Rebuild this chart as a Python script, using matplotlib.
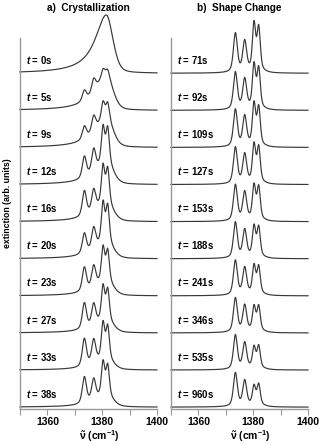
import numpy as np
import matplotlib
matplotlib.use('Agg')
import matplotlib.pyplot as plt
from matplotlib.ticker import FixedLocator

plt.rcParams['font.family'] = ['Liberation Sans', 'DejaVu Sans']
plt.rcParams['font.weight'] = 'bold'
plt.rcParams['mathtext.fontset'] = 'custom'
plt.rcParams['mathtext.rm'] = 'Liberation Sans:bold'
plt.rcParams['mathtext.it'] = 'Liberation Sans:italic:bold'
plt.rcParams['mathtext.bf'] = 'Liberation Sans:bold'

# band positions (cm-1) of the crystalline multiplet and the broad liquid-like band
peak_pos = [1373.5, 1376.9, 1380.3, 1382.0]
broad_pos = 1381.5

# a) crystallization: times, broad band height and the four narrow band heights
times_a = ['0', '5', '9', '12', '16', '20', '23', '27', '33', '38']
broad_a = [1.57, 0.95, 0.80, 0.60, 0.50, 0.45, 0.40, 0.35, 0.30, 0.30]
a1_a = [0.00, 0.28, 0.35, 0.58, 0.68, 0.55, 0.65, 0.70, 0.75, 0.72]
a2_a = [0.00, 0.35, 0.42, 0.62, 0.58, 0.58, 0.58, 0.58, 0.64, 0.58]
a3_a = [0.00, 0.20, 0.45, 0.95, 1.00, 1.05, 0.90, 0.90, 0.95, 0.90]
a4_a = [0.00, 0.15, 0.40, 0.90, 0.90, 0.95, 0.80, 0.80, 0.85, 0.80]

# b) shape change
times_b = ['71', '92', '109', '127', '153', '188', '241', '346', '535', '960']
broad_b = [0.05] * 10
a1_b = [1.05, 1.00, 1.00, 0.98, 0.97, 0.96, 0.93, 0.92, 0.92, 0.90]
a2_b = [0.82, 0.80, 0.80, 0.78, 0.76, 0.74, 0.72, 0.71, 0.70, 0.68]
a3_b = [1.25, 1.15, 1.10, 1.00, 0.90, 0.80, 0.74, 0.64, 0.55, 0.50]
a4_b = [1.15, 1.05, 1.00, 0.93, 0.86, 0.78, 0.72, 0.65, 0.58, 0.55]


def pv(x, x0, fwhm, eta=0.5):
    """pseudo-Voigt band with unit height"""
    d = (x - x0) / (fwhm / 2)
    return eta / (1 + d**2) + (1 - eta) * np.exp(-np.log(2) * d**2)


def broad(x):
    """asymmetric broad band, lorentzian tail on the low side"""
    left = 1 / (1 + ((x - broad_pos) / 4.9)**2)
    right = pv(x, broad_pos, 5.6, 0.3)
    return np.where(x < broad_pos, left, right)


def spectrum(x, b, amps, widths):
    y = b * broad(x)
    for x0, a, w in zip(peak_pos, amps, widths):
        y = y + a * pv(x, x0, w)
    return y


x = np.linspace(1350, 1400, 1200)
fig = plt.figure(figsize=(3.2, 4.45), dpi=100)

panels = [
    (20, times_a, broad_a, (a1_a, a2_a, a3_a, a4_a), (1.8, 1.8, 1.45, 1.45),
     'a)  Crystallization'),
    (171, times_b, broad_b, (a1_b, a2_b, a3_b, a4_b), (1.7, 1.7, 1.4, 1.4),
     'b)  Shape Change'),
]

for left_px, times, broads, amps, widths, title in panels:
    ax = fig.add_axes([left_px / 320, 36 / 445, 137 / 320, 404 / 445])
    n = len(times)
    for i in range(n):
        off = n - 1 - i
        y = spectrum(x, broads[i], [a[i] for a in amps], widths)
        ax.plot(x, y + off, color='#383838', lw=0.85, clip_on=False)
        ax.text(1352.3, off + 0.2, '$t$ = ' + times[i] + 's', fontsize=6.9,
                ha='left', va='bottom')
    ax.set_xlim(1350, 1400)
    ax.set_ylim(-0.05, 10.84)
    for s in ['top', 'right']:
        ax.spines[s].set_visible(False)
    ax.spines['left'].set_bounds(-0.05, 9.95)
    for s in ['left', 'bottom']:
        ax.spines[s].set_color('#999999')
        ax.spines[s].set_linewidth(1.0)
    ax.set_yticks([])
    ax.xaxis.set_major_locator(FixedLocator([1350, 1360, 1370, 1380, 1390, 1400]))
    ax.set_xticklabels(['', '1360', '', '1380', '', '1400'])
    ax.tick_params(axis='x', length=4, width=0.8, color='#999999', labelsize=7.5, pad=2)
    fig.text((left_px + 68) / 320, 1 - 8 / 445, title, ha='center', va='center',
             fontsize=7.2)
    fig.text((left_px + 79) / 320, 1 - 436 / 445, r'$\tilde{\mathrm{\nu}}$ (cm$^{-1}$)',
             ha='center', va='center', fontsize=7.5)

fig.text(8 / 320, 1 - 203 / 445, 'extinction (arb. units)', rotation=90,
         ha='center', va='center', fontsize=6.3)

fig.savefig('out.png', dpi=100)
